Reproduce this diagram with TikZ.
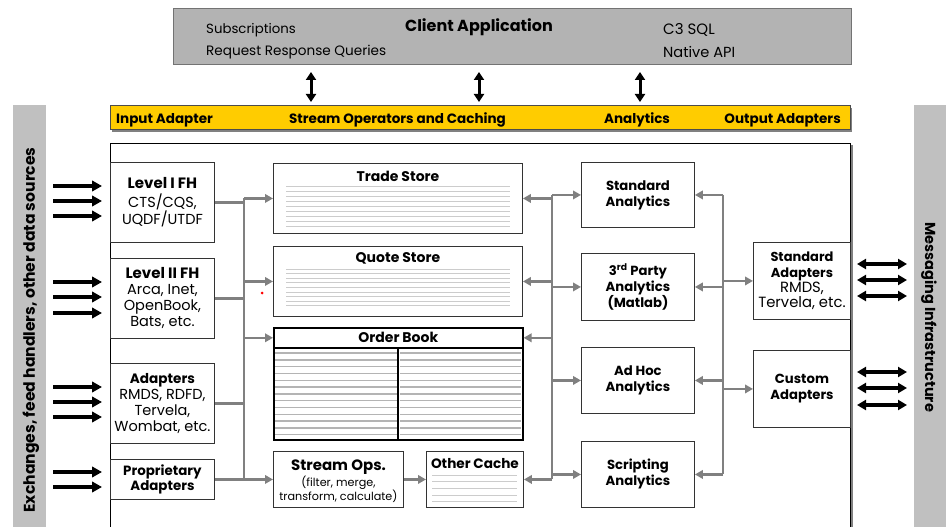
\documentclass[tikz,border=0pt]{standalone}
\usepackage{fontspec}
\setmainfont{Poppins}
\usetikzlibrary{arrows.meta}
\definecolor{cgray}{HTML}{B3B3B3}
\definecolor{sgray}{HTML}{C0C0C0}
\definecolor{ygold}{HTML}{FFCC00}
\definecolor{lgray}{HTML}{808080}
\definecolor{rgray}{HTML}{CCCCCC}
\definecolor{ogray}{HTML}{B4B4B4}
\newcommand{\bsz}[2]{{\bfseries\fontsize{#1}{16}\selectfont #2}}
\begin{document}
\begin{tikzpicture}[x=1pt,y=-1pt,
  box/.style={draw=black!80, line width=0.9pt, fill=white, inner sep=0pt, anchor=north west, align=center, font=\fontsize{14.5}{16}\selectfont},
  abox/.style={box, font=\bfseries\fontsize{13.2}{16}\selectfont},
  ttl/.style={font=\bfseries\fontsize{14}{16}\selectfont, inner sep=0pt},
  bar/.style={font=\bfseries\fontsize{13.5}{15}\selectfont, inner sep=0pt},
  ctext/.style={anchor=west, inner sep=0pt},
  conn/.style={draw=lgray, line width=2.6pt, -{Triangle[length=8pt,width=8.5pt]}},
  busline/.style={draw=lgray, line width=2.6pt},
  inarr/.style={line width=3.6pt, -{Triangle[length=10pt,width=10.5pt]}},
  dblarr/.style={line width=3.4pt, {Triangle[length=9pt,width=10pt]}-{Triangle[length=9pt,width=10pt]}},
  varr/.style={line width=3pt, {Triangle[length=8pt,width=10pt]}-{Triangle[length=8pt,width=10pt]}},
  rule/.style={draw=rgray, line width=0.8pt},
  obrule/.style={draw=ogray, line width=1.4pt}
]
\useasboundingbox (0,0) rectangle (946,527);

% side strips
\fill[sgray] (13,105) rectangle (46,527);
\fill[sgray] (914,105) rectangle (946,527);
\node[rotate=90, font=\bfseries\fontsize{15.6}{17}\selectfont, inner sep=0pt] (srcs) at (31,330) {Exchanges, feed handlers, other data sources};
\node[rotate=-90, font=\bfseries\fontsize{14.5}{16}\selectfont, inner sep=0pt] (msg) at (929,317) {Messaging Infrastructure};

% client application
\node[draw=black!55, fill=cgray, line width=0.9pt, minimum width=678pt, minimum height=56pt, anchor=north west, inner sep=0pt] (client) at (173,8) {};
\node[font=\bfseries\fontsize{16}{18}\selectfont, inner sep=0pt, anchor=base] (clt) at (479,32) {Client Application};
\node[ctext, font=\fontsize{13.3}{15}\selectfont] (subs) at (206,30) {Subscriptions};
\node[ctext, font=\fontsize{13.6}{15}\selectfont] (rrq) at (206,52) {Request Response Queries};
\node[ctext, font=\fontsize{15}{15}\selectfont] (c3) at (663,30) {C3 SQL};
\node[ctext, font=\fontsize{14.6}{15}\selectfont] (napi) at (663,52) {Native API};

% yellow bar
\fill[lgray] (112,108) rectangle (852,132);
\node[draw=black!70, fill=ygold, line width=0.8pt, minimum width=740pt, minimum height=24pt, anchor=north west, inner sep=0pt] (ybar) at (110,105) {};
\node[bar, anchor=base west] (ia) at (116,124) {Input Adapter};
\node[bar, anchor=base] (soc) at (397.5,124) {Stream Operators and Caching};
\node[bar, anchor=base] (anl) at (637,124) {Analytics};
\node[bar, anchor=base east] (oa) at (841,124) {Output Adapters};

% vertical double arrows
\foreach \vx in {311,479,640}{
  \coordinate (va) at (\vx,72);
  \coordinate (vb) at (\vx,102);
  \draw[varr] (va) -- (vb);
}

% frame
\draw[lgray, line width=2pt] (852,145) -- (852,527);
\draw[black, line width=0.9pt] (110,527) -- (110,143) -- (850,143) -- (850,527);

% left column
\node[box, minimum width=104pt, minimum height=80pt] (l1) at (110,162) {\bsz{15}{Level I FH}\\[3pt]CTS/CQS,\\UQDF/UTDF};
\node[box, minimum width=104pt, minimum height=80pt] (l2) at (110,258) {\bsz{15}{Level II FH}\\Arca, Inet,\\OpenBook,\\Bats, etc.};
\node[box, minimum width=104pt, minimum height=80pt] (ad) at (110,363) {\bsz{13.6}{Adapters}\\RMDS, RDFD,\\Tervela,\\Wombat, etc.};
\node[box, minimum width=104pt, minimum height=40pt, font=\bfseries\fontsize{13.4}{15.5}\selectfont] (pr) at (110,459) {Proprietary\\Adapters};

% input arrows
\foreach \yy in {186,201,216}{\coordinate (ie) at ([xshift=-8pt]l1.west |- 0,\yy); \draw[inarr] (53,\yy) -- (ie);}
\foreach \yy in {282,297,313}{\coordinate (ie) at ([xshift=-8pt]l2.west |- 0,\yy); \draw[inarr] (53,\yy) -- (ie);}
\foreach \yy in {387,402,417}{\coordinate (ie) at ([xshift=-8pt]ad.west |- 0,\yy); \draw[inarr] (53,\yy) -- (ie);}
\foreach \yy in {472,487}{\coordinate (ie) at ([xshift=-8pt]pr.west |- 0,\yy); \draw[inarr] (53,\yy) -- (ie);}

% stores
\node[box, minimum width=249pt, minimum height=70pt] (trade) at (273,163) {};
\node[ttl, below=7.5pt] (tradet) at (trade.north) {Trade Store};
\foreach \i in {0,...,8}{\draw[rule] (286,{186+5*\i}) -- (510,{186+5*\i});}
\node[box, minimum width=249pt, minimum height=70pt] (quote) at (273,246) {};
\node[ttl, below=6.5pt] (quotet) at (quote.north) {Quote Store};
\foreach \i in {0,...,8}{\draw[rule] (286,{269+4.6*\i}) -- (510,{269+4.6*\i});}

\node[box, minimum width=249pt, minimum height=92pt, line width=1.6pt, draw=black] (ob) at (273,347) {};
\foreach \i in {0,...,12}{
  \draw[obrule] (275,{353+6.8*\i}) -- (397,{353+6.8*\i});
  \draw[obrule] (400,{353+6.8*\i}) -- (521,{353+6.8*\i});
}
\draw[black, line width=1.4pt] (398,347) -- (398,439);
\node[box, minimum width=249pt, minimum height=20pt, line width=1.6pt, draw=black, font=\bfseries\fontsize{14}{16}\selectfont] (obt) at (273,327) {Order Book};

\node[box, minimum width=130pt, minimum height=56pt] (sops) at (273,451) {};
\node[ttl, below=9pt, font=\bfseries\fontsize{15}{16}\selectfont] (sopst) at (sops.north) {Stream Ops.};
\node[font=\fontsize{11.2}{12.5}\selectfont, align=center, inner sep=0pt, below=0.5pt] (sopsd) at (sopst.south) {(filter, merge,\\transform, calculate)};
\node[box, minimum width=97pt, minimum height=56pt] (oc) at (426,451) {};
\node[ttl, below=7pt, font=\bfseries\fontsize{13.6}{16}\selectfont] (oct) at (oc.north) {Other Cache};
\foreach \i in {0,...,4}{\draw[rule] (432,{475+6.7*\i}) -- (517,{475+6.7*\i});}

% analytics
\node[abox, minimum width=113pt, minimum height=65pt] (sa) at (581,162) {Standard\\Analytics};
\node[abox, minimum width=113pt, minimum height=67pt] (tp) at (581,253) {3\textsuperscript{rd} Party\\Analytics\\(Matlab)};
\node[abox, minimum width=113pt, minimum height=66pt] (ah) at (581,347) {Ad Hoc\\Analytics};
\node[abox, minimum width=113pt, minimum height=66pt] (sc) at (581,441) {Scripting\\Analytics};

% output adapters
\node[box, minimum width=97pt, minimum height=77pt, font=\fontsize{14.8}{15.3}\selectfont] (stad) at (753,242) {\textbf{\fontsize{13}{15.3}\selectfont Standard}\\\textbf{\fontsize{13}{15.3}\selectfont Adapters}\\RMDS,\\Tervela, etc.};
\node[abox, minimum width=97pt, minimum height=77pt] (cust) at (753,350) {Custom\\Adapters};

% right double arrows
\foreach \yy in {264,280,296}{\coordinate (da) at (857,\yy); \coordinate (db) at (907,\yy); \draw[dblarr] (da) -- (db);}
\foreach \yy in {372,388,405}{\coordinate (da) at (857,\yy); \coordinate (db) at (907,\yy); \draw[dblarr] (da) -- (db);}

% bus A
\coordinate (busA) at (244,0);
\draw[busline] (trade.west -| busA) -- (sops.west -| busA);
\draw[busline] (l1.east) -- (l1.east -| busA);
\draw[busline] (l2.east) -- (l2.east -| busA);
\draw[busline] (ad.east) -- (ad.east -| busA);
\draw[busline] (pr.east) -- (pr.east -| busA);
\draw[conn] (trade.west -| busA) -- (trade.west);
\draw[conn] (quote.west -| busA) -- (quote.west);
\draw[conn] (obt.west -| busA) -- (obt.west);
\draw[conn] (sops.west -| busA) -- (sops.west);

\draw[conn] (sops.east) -- (oc.west);

% bus B
\coordinate (busB) at (552,0);
\draw[busline] (sa.west -| busB) -- (oc.east -| busB);
\draw[conn] (trade.east -| busB) -- (trade.east);
\draw[conn] (quote.east -| busB) -- (quote.east);
\draw[conn] (obt.east -| busB) -- (obt.east);
\draw[conn] (oc.east -| busB) -- (oc.east);
\draw[conn] (sa.west -| busB) -- (sa.west);
\draw[conn] (tp.west -| busB) -- (tp.west);
\draw[conn] (ah.west -| busB) -- (ah.west);
\draw[conn] (sc.west -| busB) -- (sc.west);

% bus C
\coordinate (busC) at (723,0);
\draw[busline] (sa.east -| busC) -- (sc.east -| busC);
\draw[conn] (sa.east -| busC) -- (sa.east);
\draw[conn] (tp.east -| busC) -- (tp.east);
\draw[conn] (ah.east -| busC) -- (ah.east);
\draw[conn] (sc.east -| busC) -- (sc.east);
\draw[conn] (stad.west -| busC) -- (stad.west);
\draw[conn] (cust.west -| busC) -- (cust.west);

% small red mark
\fill[red] (262,293) circle (1.5pt);
\end{tikzpicture}
\end{document}
